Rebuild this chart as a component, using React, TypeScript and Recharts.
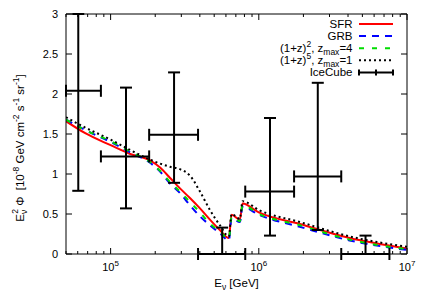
import React from "react";
import {
  ComposedChart,
  Line,
  Scatter,
  ErrorBar,
  XAxis,
  YAxis,
  Legend,
} from "recharts";

// model curves, sampled on a common energy grid (GeV)
const ENERGY = [
  5.0e4, 6.74e4, 1.0e5, 1.355e5, 1.846e5, 2.157e5, 2.52e5, 2.94e5, 3.43e5,
  4.01e5, 4.68e5, 5.46e5, 6.28e5, 6.55e5, 7.45e5, 7.77e5, 1.0e6, 1.89e6,
  4.1e6, 1.0e7,
];
const SFR = [
  1.66, 1.51, 1.36, 1.25, 1.17, 1.08, 0.95, 0.82, 0.7, 0.57, 0.43, 0.3, 0.2,
  0.49, 0.43, 0.63, 0.52, 0.375, 0.2, 0.07,
];
const GRB = [
  1.68, 1.55, 1.4, 1.27, 1.14, 1.03, 0.88, 0.76, 0.61, 0.47, 0.36, 0.26, 0.17,
  0.45, 0.4, 0.59, 0.49, 0.34, 0.17, 0.05,
];
const Z5_ZMAX4 = [
  1.68, 1.55, 1.41, 1.28, 1.15, 1.04, 0.9, 0.78, 0.65, 0.52, 0.38, 0.28, 0.19,
  0.47, 0.41, 0.61, 0.5, 0.36, 0.18, 0.06,
];
const Z5_ZMAX1 = [
  1.71, 1.58, 1.43, 1.3, 1.18, 1.13, 1.09, 1.06, 0.98, 0.78, 0.55, 0.36, 0.22,
  0.5, 0.44, 0.66, 0.55, 0.4, 0.22, 0.09,
];

// IceCube points
const ICE_E = [6.05e4, 1.27e5, 2.68e5, 5.66e5, 1.19e6, 2.5e6, 5.25e6];
const ICE_V = [2.04, 1.22, 1.49, 0, 0.78, 0.97, 0];
const ICE_BINS = [5.0e4, 8.6e4, 1.82e5, 3.89e5, 8.1e5, 1.73e6, 3.6e6, 7.61e6];
const ICE_LO = [0.79, 0.57, 0.89, 0, 0.23, 0.3, 0];
const ICE_HI = [3.0, 2.08, 2.27, 0.33, 1.7, 2.14, 0.23];

const X_TICKS = [
  5e4, 6e4, 7e4, 8e4, 9e4, 1e5, 2e5, 3e5, 4e5, 5e5, 6e5, 7e5, 8e5, 9e5, 1e6,
  2e6, 3e6, 4e6, 5e6, 6e6, 7e6, 8e6, 9e6, 1e7,
];
const X_MAJOR = [1e5, 1e6, 1e7];
const Y_TICKS = [0, 0.5, 1, 1.5, 2, 2.5, 3];

const FONT = '"Liberation Sans", Arial, Helvetica, sans-serif';

const curves = ENERGY.map((e, i) => ({
  e,
  sfr: SFR[i],
  grb: GRB[i],
  z4: Z5_ZMAX4[i],
  z1: Z5_ZMAX1[i],
}));

const ice = ICE_E.map((e, i) => ({
  e,
  v: ICE_V[i],
  ex: [e - ICE_BINS[i], ICE_BINS[i + 1] - e],
  ey: [ICE_V[i] - ICE_LO[i], ICE_HI[i] - ICE_V[i]],
}));

const SERIES = [
  { key: "sfr", color: "#ff0000", dash: undefined, width: 2 },
  { key: "grb", color: "#0000ff", dash: "7 6", width: 2 },
  { key: "z4", color: "#00dd00", dash: "5 8", width: 2 },
  { key: "z1", color: "#000000", dash: "2 3", width: 2 },
];

const makeXTick = (side: "top" | "bottom") => (props: any) => {
  const { x, y, payload } = props;
  const major = X_MAJOR.includes(payload.value);
  const len = major ? 6 : 3;
  const dir = side === "bottom" ? -1 : 1;
  return (
    <g>
      <line x1={x} x2={x} y1={y} y2={y + dir * len} stroke="#000" />
      {side === "bottom" && major && (
        <text x={x} y={y + 17} textAnchor="middle" fontSize={11} fill="#000">
          10
          <tspan dy={-5} fontSize={8}>
            {Math.round(Math.log10(payload.value))}
          </tspan>
        </text>
      )}
    </g>
  );
};

const YTitle = (props: any) => {
  const { viewBox } = props;
  const cx = viewBox.x + 24;
  const cy = viewBox.y + viewBox.height / 2 + 14;
  return (
    <text
      transform={`translate(${cx},${cy}) rotate(-90)`}
      textAnchor="middle"
      fontSize={11.5}
      fill="#000"
      style={{ whiteSpace: "pre" }}
    >
      E<tspan dy={3} fontSize={8.5}>ν</tspan>
      <tspan dx={-4} dy={-9} fontSize={8.5}>2</tspan>
      <tspan dy={6}>{" Φ  [10"}</tspan>
      <tspan dy={-5} fontSize={8.5}>-8</tspan>
      <tspan dy={5}>{" GeV cm"}</tspan>
      <tspan dy={-5} fontSize={8.5}>-2</tspan>
      <tspan dy={5}>{" s"}</tspan>
      <tspan dy={-5} fontSize={8.5}>-1</tspan>
      <tspan dy={5}>{" sr"}</tspan>
      <tspan dy={-5} fontSize={8.5}>-1</tspan>
      <tspan dy={5}>]</tspan>
    </text>
  );
};

const XTitle = (props: any) => {
  const { viewBox } = props;
  const cx = viewBox.x + viewBox.width / 2;
  return (
    <text
      x={cx}
      y={viewBox.y + 33}
      textAnchor="middle"
      fontSize={11.5}
      fill="#000"
    >
      E<tspan dy={3} fontSize={8.5}>ν</tspan>
      <tspan dy={-3}>{" [GeV]"}</tspan>
    </text>
  );
};

const LEGEND_LABELS = [
  <>SFR</>,
  <>GRB</>,
  <>
    (1+z)<tspan dy={-5} fontSize={8.5}>2</tspan>
    <tspan dy={5}>, z</tspan>
    <tspan dy={3} fontSize={8.5}>max</tspan>
    <tspan dy={-3}>=4</tspan>
  </>,
  <>
    (1+z)<tspan dy={-5} fontSize={8.5}>5</tspan>
    <tspan dy={5}>, z</tspan>
    <tspan dy={3} fontSize={8.5}>max</tspan>
    <tspan dy={-3}>=1</tspan>
  </>,
  <>IceCube</>,
];

const LegendBox = () => {
  const textRight = 352.5;
  const x1 = 359;
  const x2 = 393;
  const rowY = (i: number) => 24 + i * 12.1;
  return (
    <svg width={436} height={90} style={{ overflow: "visible" }}>
      {LEGEND_LABELS.map((label, i) => (
        <text
          key={i}
          x={textRight}
          y={rowY(i) + 4}
          textAnchor="end"
          fontSize={11.5}
          fill="#000"
          fontFamily={FONT}
        >
          {label}
        </text>
      ))}
      {SERIES.map((s, i) => (
        <line
          key={s.key}
          x1={x1}
          x2={x2}
          y1={rowY(i)}
          y2={rowY(i)}
          stroke={s.color}
          strokeWidth={s.width}
          strokeDasharray={s.dash}
        />
      ))}
      <g stroke="#000" strokeWidth={2}>
        <line x1={x1} x2={x2} y1={rowY(4)} y2={rowY(4)} />
        <line x1={x1} x2={x1} y1={rowY(4) - 3} y2={rowY(4) + 3} />
        <line x1={x2} x2={x2} y1={rowY(4) - 3} y2={rowY(4) + 3} />
        <line
          x1={(x1 + x2) / 2}
          x2={(x1 + x2) / 2}
          y1={rowY(4) - 3}
          y2={rowY(4) + 3}
        />
      </g>
    </svg>
  );
};

const App = () => {
  return (
    <div
      style={{ position: "absolute", left: 0, top: 0, fontFamily: FONT }}
    >
      <ComposedChart
        width={436}
        height={305}
        data={curves}
        margin={{ top: 13, right: 28, bottom: 21, left: 0 }}
      >
        <XAxis
          dataKey="e"
          type="number"
          scale="log"
          domain={[5e4, 1e7]}
          allowDataOverflow
          ticks={X_TICKS}
          interval={0}
          tickLine={false}
          tickSize={0}
          tickMargin={0}
          tick={makeXTick("bottom")}
          axisLine={{ stroke: "#000" }}
          height={30}
          label={<XTitle />}
        />
        <XAxis
          xAxisId="top"
          orientation="top"
          dataKey="e"
          type="number"
          scale="log"
          domain={[5e4, 1e7]}
          allowDataOverflow
          ticks={X_TICKS}
          interval={0}
          tickLine={false}
          tickSize={0}
          tickMargin={0}
          tick={makeXTick("top")}
          axisLine={{ stroke: "#000" }}
          height={1}
        />
        <YAxis
          type="number"
          domain={[0, 3]}
          allowDataOverflow
          ticks={Y_TICKS}
          interval={0}
          tickSize={-6}
          tickMargin={14}
          tickLine={{ stroke: "#000" }}
          axisLine={{ stroke: "#000" }}
          tick={{ fontSize: 11, fill: "#000" }}
          width={66}
          label={<YTitle />}
        />
        <YAxis
          yAxisId="right"
          orientation="right"
          type="number"
          domain={[0, 3]}
          allowDataOverflow
          ticks={Y_TICKS}
          interval={0}
          tickSize={-6}
          tickLine={{ stroke: "#000" }}
          axisLine={{ stroke: "#000" }}
          tick={() => <g />}
          width={1}
        />
        {SERIES.map((s) => (
          <Line
            key={s.key}
            dataKey={s.key}
            type="monotone"
            stroke={s.color}
            strokeWidth={s.width}
            strokeDasharray={s.dash}
            dot={false}
            activeDot={false}
            isAnimationActive={false}
          />
        ))}
        <Scatter
          name="IceCube"
          data={ice}
          dataKey="v"
          shape={() => <g />}
          isAnimationActive={false}
        >
          <ErrorBar
            dataKey="ex"
            direction="x"
            width={6}
            stroke="#000"
            strokeWidth={2}
            isAnimationActive={false}
          />
          <ErrorBar
            dataKey="ey"
            direction="y"
            width={6}
            stroke="#000"
            strokeWidth={2}
            isAnimationActive={false}
          />
        </Scatter>
        <Legend
          layout="vertical"
          align="center"
          verticalAlign="middle"
          wrapperStyle={{ left: 0, top: 0, width: 436, height: 90 }}
          content={<LegendBox />}
        />
      </ComposedChart>
    </div>
  );
};

export default App;
